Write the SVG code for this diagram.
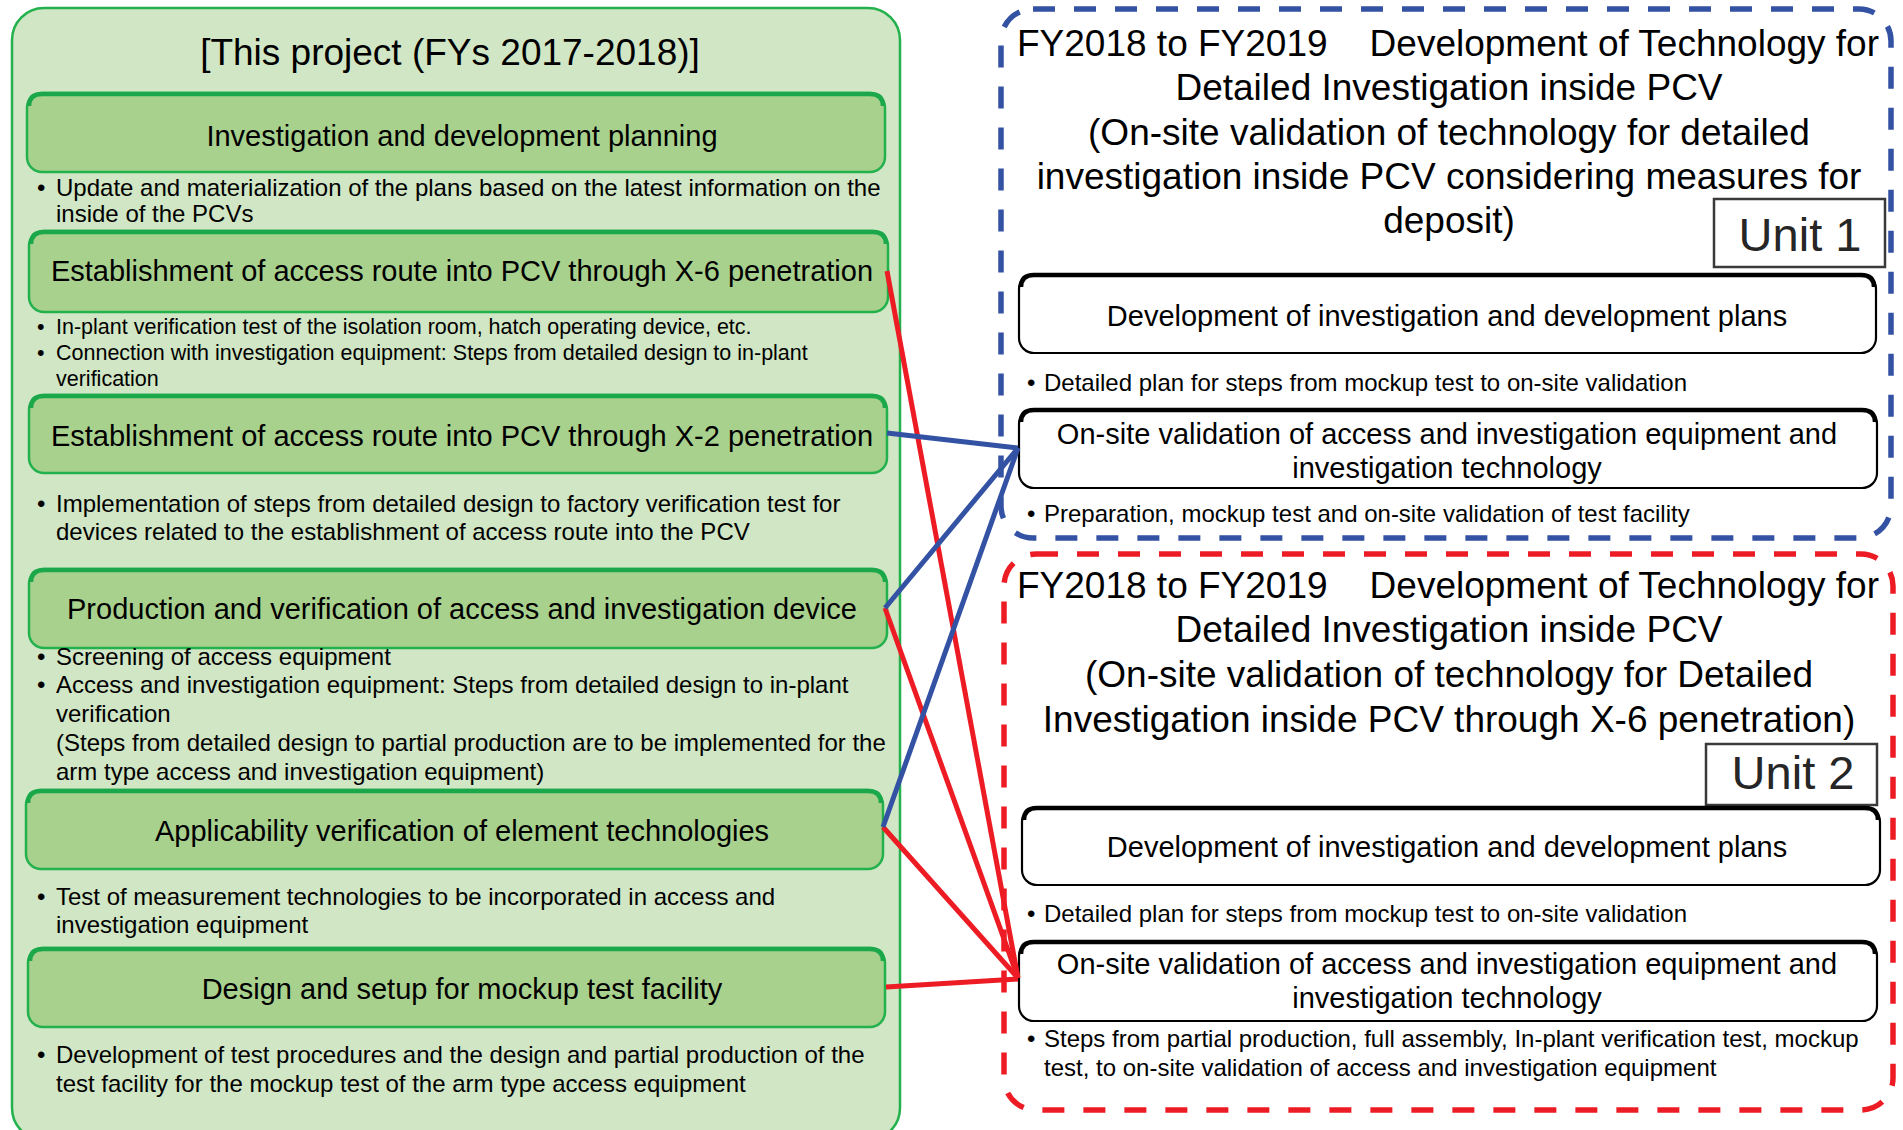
<svg xmlns="http://www.w3.org/2000/svg" width="1903" height="1130" viewBox="0 0 1903 1130">
<style>
text{font-family:"Liberation Sans",Arial,sans-serif;fill:#000}
.t37{font-size:37px}
.t29{font-size:29px}
.t24{font-size:24px}
.t21{font-size:21.5px}
.c{text-anchor:middle}
.gbox{fill:#a9d18e;stroke:#22b14c;stroke-width:2.5}
.gtop{fill:none;stroke:#1aa84a;stroke-width:4.5}
.wbox{fill:#fff;stroke:#000;stroke-width:2.2}
.wtop{fill:none;stroke:#000;stroke-width:4.5}
.unit{fill:#fff;stroke:#3a3a3a;stroke-width:2.5}
.utext{font-size:47px;fill:#262626}
.red{stroke:#ed1c24;stroke-width:5;fill:none}
.blue{stroke:#3352a3;stroke-width:5;fill:none}
</style>
<rect width="1903" height="1130" fill="#fff"/>

<g id="project-panel">
  <rect x="12" y="8" width="888" height="1132" rx="32" fill="#d0e6c4" stroke="#22b14c" stroke-width="2.5"/>
  <text class="t37 c" x="450" y="65">[This project (FYs 2017-2018)]</text>
</g>

<g id="node-planning">
  <rect class="gbox" x="27" y="93" width="858" height="79" rx="15"/>
  <path class="gtop" d="M29 106 Q29 94 42 94 L870 94 Q883 94 883 106"/>
  <text class="t29 c" x="462" y="146">Investigation and development planning</text>
  <text class="t24" x="37" y="196">•</text>
  <text class="t24" x="56" y="196">Update and materialization of the plans based on the latest information on the</text>
  <text class="t24" x="56" y="222">inside of the PCVs</text>
</g>

<g id="node-x6">
  <rect class="gbox" x="29" y="231" width="859" height="81" rx="15"/>
  <path class="gtop" d="M31 244 Q31 232 44 232 L873 232 Q886 232 886 244"/>
  <text class="t29 c" x="462" y="281">Establishment of access route into PCV through X-6 penetration</text>
  <text class="t21" x="37" y="334">•</text>
  <text class="t21" x="56" y="334">In-plant verification test of the isolation room, hatch operating device, etc.</text>
  <text class="t21" x="37" y="360">•</text>
  <text class="t21" x="56" y="360">Connection with investigation equipment: Steps from detailed design to in-plant</text>
  <text class="t21" x="56" y="386">verification</text>
</g>

<g id="node-x2">
  <rect class="gbox" x="29" y="395" width="858" height="78" rx="15"/>
  <path class="gtop" d="M31 408 Q31 396 44 396 L872 396 Q885 396 885 408"/>
  <text class="t29 c" x="462" y="446">Establishment of access route into PCV through X-2 penetration</text>
  <text class="t24" x="37" y="512">•</text>
  <text class="t24" x="56" y="512">Implementation of steps from detailed design to factory verification test for</text>
  <text class="t24" x="56" y="540">devices related to the establishment of access route into the PCV</text>
</g>

<g id="node-production">
  <rect class="gbox" x="29" y="569" width="858" height="79" rx="15"/>
  <path class="gtop" d="M31 582 Q31 570 44 570 L872 570 Q885 570 885 582"/>
  <text class="t29 c" x="462" y="619">Production and verification of access and investigation device</text>
  <text class="t24" x="37" y="665">•</text>
  <text class="t24" x="56" y="665">Screening of access equipment</text>
  <text class="t24" x="37" y="693">•</text>
  <text class="t24" x="56" y="693">Access and investigation equipment: Steps from detailed design to in-plant</text>
  <text class="t24" x="56" y="722">verification</text>
  <text class="t24" x="56" y="751">(Steps from detailed design to partial production are to be implemented for the</text>
  <text class="t24" x="56" y="780">arm type access and investigation equipment)</text>
</g>

<g id="node-applicability">
  <rect class="gbox" x="26" y="790" width="857" height="79" rx="15"/>
  <path class="gtop" d="M28 803 Q28 791 41 791 L868 791 Q881 791 881 803"/>
  <text class="t29 c" x="462" y="841">Applicability verification of element technologies</text>
  <text class="t24" x="37" y="905">•</text>
  <text class="t24" x="56" y="905">Test of measurement technologies to be incorporated in access and</text>
  <text class="t24" x="56" y="933">investigation equipment</text>
</g>

<g id="node-mockup">
  <rect class="gbox" x="28" y="948" width="857" height="79" rx="15"/>
  <path class="gtop" d="M30 961 Q30 949 43 949 L870 949 Q883 949 883 961"/>
  <text class="t29 c" x="462" y="999">Design and setup for mockup test facility</text>
  <text class="t24" x="37" y="1063">•</text>
  <text class="t24" x="56" y="1063">Development of test procedures and the design and partial production of the</text>
  <text class="t24" x="56" y="1092">test facility for the mockup test of the arm type access equipment</text>
</g>

<g id="unit1-panel">
  <rect x="1001" y="9" width="890" height="529" rx="32" fill="none" stroke="#3352a3" stroke-width="5.5" stroke-dasharray="22 19"/>
  <text class="t37" x="1017" y="56">FY2018 to FY2019<tspan dx="42">Development of Technology for</tspan></text>
  <text class="t37 c" x="1449" y="100">Detailed Investigation inside PCV</text>
  <text class="t37 c" x="1449" y="145">(On-site validation of technology for detailed</text>
  <text class="t37 c" x="1449" y="189">investigation inside PCV considering measures for</text>
  <text class="t37 c" x="1449" y="233">deposit)</text>
  <rect class="unit" x="1714" y="199" width="171" height="68"/>
  <text class="utext c" x="1800" y="251">Unit 1</text>
</g>

<g id="unit1-plans">
  <rect class="wbox" x="1019" y="274" width="857" height="79" rx="15"/>
  <path class="wtop" d="M1021 287 Q1021 275 1034 275 L1861 275 Q1874 275 1874 287"/>
  <text class="t29 c" x="1447" y="326">Development of investigation and development plans</text>
  <text class="t24" x="1027" y="391">•</text>
  <text class="t24" x="1044" y="391">Detailed plan for steps from mockup test to on-site validation</text>
</g>

<g id="unit1-onsite">
  <rect class="wbox" x="1019" y="409" width="858" height="79" rx="15"/>
  <path class="wtop" d="M1021 422 Q1021 410 1034 410 L1862 410 Q1875 410 1875 422"/>
  <text class="t29 c" x="1447" y="444">On-site validation of access and investigation equipment and</text>
  <text class="t29 c" x="1447" y="478">investigation technology</text>
  <text class="t24" x="1027" y="522">•</text>
  <text class="t24" x="1044" y="522">Preparation, mockup test and on-site validation of test facility</text>
</g>

<g id="unit2-panel">
  <rect x="1004" y="554" width="889" height="556" rx="32" fill="none" stroke="#ed1c24" stroke-width="5.5" stroke-dasharray="22 19"/>
  <text class="t37" x="1017" y="598">FY2018 to FY2019<tspan dx="42">Development of Technology for</tspan></text>
  <text class="t37 c" x="1449" y="642">Detailed Investigation inside PCV</text>
  <text class="t37 c" x="1449" y="687">(On-site validation of technology for Detailed</text>
  <text class="t37 c" x="1449" y="732">Investigation inside PCV through X-6 penetration)</text>
  <rect class="unit" x="1706" y="744" width="171" height="61"/>
  <text class="utext c" x="1793" y="789">Unit 2</text>
</g>

<g id="unit2-plans">
  <rect class="wbox" x="1022" y="807" width="858" height="78" rx="15"/>
  <path class="wtop" d="M1024 820 Q1024 808 1037 808 L1865 808 Q1878 808 1878 820"/>
  <text class="t29 c" x="1447" y="857">Development of investigation and development plans</text>
  <text class="t24" x="1027" y="922">•</text>
  <text class="t24" x="1044" y="922">Detailed plan for steps from mockup test to on-site validation</text>
</g>

<g id="unit2-onsite">
  <rect class="wbox" x="1019" y="941" width="858" height="80" rx="15"/>
  <path class="wtop" d="M1021 954 Q1021 942 1034 942 L1862 942 Q1875 942 1875 954"/>
  <text class="t29 c" x="1447" y="974">On-site validation of access and investigation equipment and</text>
  <text class="t29 c" x="1447" y="1008">investigation technology</text>
  <text class="t24" x="1027" y="1047">•</text>
  <text class="t24" x="1044" y="1047">Steps from partial production, full assembly, In-plant verification test, mockup</text>
  <text class="t24" x="1044" y="1076">test, to on-site validation of access and investigation equipment</text>
</g>

<g id="connectors">
  <line class="red" x1="887" y1="271" x2="1018" y2="978"/>
  <line class="red" x1="885" y1="608" x2="1018" y2="978"/>
  <line class="red" x1="883" y1="827" x2="1018" y2="978"/>
  <line class="red" x1="886" y1="987" x2="1018" y2="979"/>
  <line class="blue" x1="887" y1="433" x2="1018" y2="448"/>
  <line class="blue" x1="885" y1="608" x2="1018" y2="448"/>
  <line class="blue" x1="883" y1="827" x2="1018" y2="448"/>
</g>
</svg>
